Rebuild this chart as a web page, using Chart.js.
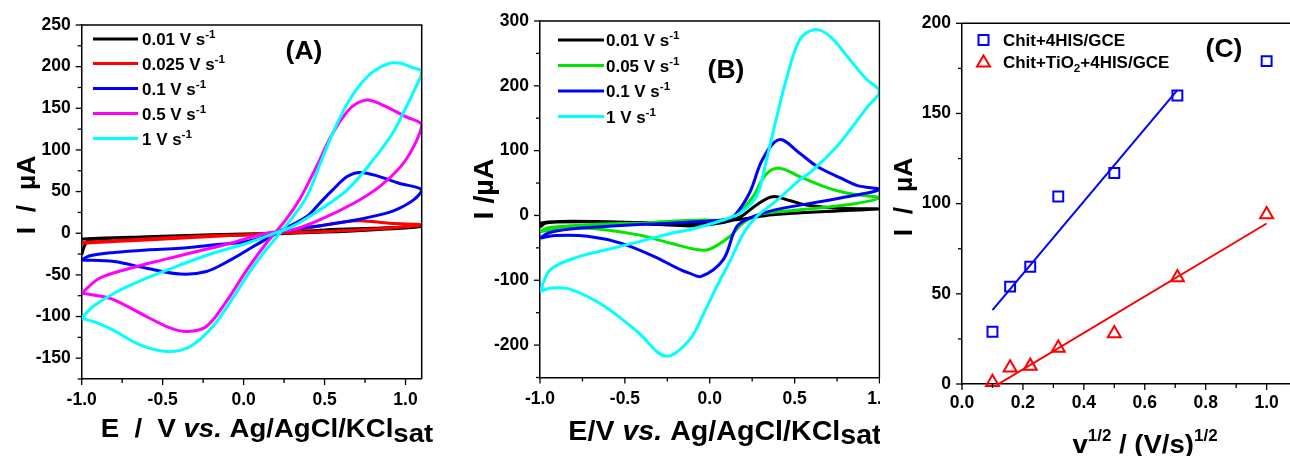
<!DOCTYPE html>
<html>
<head>
<meta charset="utf-8">
<script src="https://cdn.jsdelivr.net/npm/chart.js@4.4.0/dist/chart.umd.min.js"></script>
<style>
  html, body { margin: 0; padding: 0; background: #fff; overflow: hidden; width: 1290px; height: 456px; }
  canvas { position: absolute; top: 0; }
  #cvA { left: 0; }
  #cvB { left: 440px; }
  #cvC { left: 880px; background: #fff; }
  #edge { position: absolute; left: 880px; top: 20px; width: 1px; height: 358px; background: #e4e4e4; }
</style>
</head>
<body>
<canvas id="cvA" width="440" height="456"></canvas>
<canvas id="cvB" width="460" height="456"></canvas>
<canvas id="cvC" width="411" height="456"></canvas>
<div id="edge"></div>
<script>
// ---------- (A) Chit+4HIS/GCE voltammograms, [E / V, I / uA] ----------
// each list: sweep with the redox peaks, then the return sweep
const ratesA = ['0.01', '0.025', '0.1', '0.5', '1'];
const coloursA = ['#000000', '#ff0000', '#0000ff', '#ff00ff', '#00ffff'];

const cvA_001 = [[-1.0,-26],[-0.98,-14],[-0.95,-8],[-0.8,-6],[-0.4,-3],[0.0,-1],[0.2,0],[0.5,4],[0.8,6],[1.1,8],
  [0.7,3],[0.3,0],[0.0,-2],[-0.5,-4],[-0.9,-6],[-1.0,-7]];
const cvA_0025 = [[-1.0,-11],[-0.6,-7],[-0.2,-3],[0.2,0],[0.45,8],[0.6,13],[0.72,15],[0.9,12],[1.1,10],
  [0.8,5],[0.5,2],[0.2,0],[-0.2,-4],[-0.6,-8],[-1.0,-12]];
const cvA_01 = [[-1.0,-32],[-0.8,-34],[-0.6,-42],[-0.39,-49],[-0.23,-46],[-0.08,-32],[0.06,-16],[0.22,2],[0.39,20],
  [0.47,36],[0.55,52],[0.64,68],[0.72,73],[0.84,68],[0.96,60],[1.1,52],
  [1.05,40],[0.94,28],[0.84,22],[0.64,14],[0.43,8],[0.22,1],[0.02,-10],[-0.19,-14],[-0.39,-18],[-0.6,-20],
  [-0.8,-23],[-0.95,-27],[-1.0,-32]];
const cvA_05 = [[-1.0,-72],[-0.9,-75],[-0.8,-80],[-0.6,-100],[-0.45,-114],[-0.35,-118],[-0.23,-112],[-0.1,-80],
  [0.02,-44],[0.14,-12],[0.26,16],[0.35,42],[0.45,80],[0.55,120],[0.64,146],[0.7,156],[0.77,160],[0.88,152],
  [1.0,140],[1.1,130],
  [1.05,104],[0.97,80],[0.84,56],[0.68,36],[0.47,16],[0.3,4],[0.14,0],[-0.08,-12],[-0.29,-22],[-0.5,-32],
  [-0.7,-42],[-0.89,-54],[-1.0,-72]];
const cvA_1 = [[-1.0,-102],[-0.9,-108],[-0.8,-117],[-0.64,-134],[-0.47,-142],[-0.33,-136],[-0.19,-112],[-0.06,-76],
  [0.06,-40],[0.18,-10],[0.29,16],[0.39,44],[0.47,82],[0.55,120],[0.63,152],[0.71,176],[0.8,194],[0.9,204],
  [0.97,204],[1.04,199],[1.1,194],
  [1.05,170],[1.0,150],[0.92,120],[0.8,88],[0.64,52],[0.47,28],[0.3,8],[0.22,2],[0.02,-12],[-0.19,-24],
  [-0.39,-38],[-0.6,-54],[-0.8,-72],[-0.93,-88],[-1.0,-102]];
const curvesA = [cvA_001, cvA_0025, cvA_01, cvA_05, cvA_1];

// ---------- (B) Chit+TiO2+4HIS/GCE voltammograms ----------
// anodic sweep from -1.0 V, then cathodic sweep back
const ratesB = ['0.01', '0.05', '0.1', '1'];
const coloursB = ['#000000', '#00e600', '#0000ff', '#00ffff'];

const cvB_001 = [[-1.0,-18],[-0.97,-12],[-0.9,-10],[-0.6,-10],[-0.3,-14],[-0.1,-16],[0.08,-11],[0.18,-2],[0.28,17],
  [0.37,29],[0.47,23],[0.57,16],[0.77,11],[1.0,10],
  [0.75,7],[0.37,1],[0.18,-6],[-0.1,-13],[-0.4,-11],[-0.8,-9],[-0.95,-10],[-1.0,-12]];
const cvB_005 = [[-1.0,-25],[-0.95,-19],[-0.82,-16],[-0.62,-13],[-0.42,-12],[-0.23,-9],[-0.03,-7],[0.08,-7],[0.16,1],
  [0.255,29],[0.33,63],[0.41,73],[0.53,60],[0.67,45],[0.77,37],[0.87,32],[1.0,27],
  [0.85,18],[0.7,13],[0.5,8],[0.3,2],[0.2,-11],[0.12,-32],[0.0,-52],[-0.07,-53],[-0.23,-43],[-0.42,-30],
  [-0.62,-22],[-0.82,-19],[-1.0,-25]];
const cvB_01 = [[-1.0,-35],[-0.95,-27],[-0.82,-21],[-0.62,-17],[-0.42,-14],[-0.23,-12],[-0.03,-9],[0.08,-7],[0.14,-2],
  [0.235,35],[0.31,86],[0.41,117],[0.53,96],[0.63,76],[0.77,58],[0.87,46],[1.0,40],
  [0.77,27],[0.39,9],[0.255,-2],[0.16,-17],[0.08,-68],[-0.05,-94],[-0.12,-89],[-0.17,-84],[-0.33,-63],
  [-0.52,-43],[-0.72,-32],[-0.91,-31],[-1.0,-35]];
const cvB_1 = [[-1.0,-117],[-0.94,-84],[-0.8,-66],[-0.61,-53],[-0.41,-40],[-0.22,-27],[-0.12,-22],[0.08,-7],[0.18,4],
  [0.275,29],[0.33,81],[0.39,147],[0.45,209],[0.53,271],[0.62,287],[0.71,276],[0.82,242],[0.92,211],[1.0,191],
  [0.93,168],[0.83,133],[0.74,104],[0.6,68],[0.53,55],[0.39,22],[0.275,-2],[0.2,-27],[0.12,-70],[0.05,-105],
  [-0.03,-148],[-0.12,-192],[-0.26,-217],[-0.42,-181],[-0.62,-140],[-0.82,-114],[-0.93,-112],[-1.0,-117]];
const curvesB = [cvB_001, cvB_005, cvB_01, cvB_1];

// ---------- (C) peak current vs square root of scan rate ----------
const sqrtRate = [0.1, 0.158, 0.224, 0.316, 0.5, 0.707, 1.0];
const ipChit = [29, 54, 65, 104, 117, 160, 179];
const ipChitTiO2 = [1, 9, 10, 20, 28, 59, 94];
const fitChit = [[0.1, 41], [0.707, 163]];
const fitChitTiO2 = [[0.1, -2], [1.0, 89]];
const seriesC = ['Chit+4HIS/GCE', 'Chit+TiO2+4HIS/GCE'];

// ---------- helpers ----------
const FONT = '"Liberation Sans", Arial, Helvetica, sans-serif';
const STRETCH = 1.06;
const xy = pairs => pairs.map(p => ({ x: p[0], y: p[1] }));

function richText(ctx, parts, x, y, size, o) {
  o = o || {};
  const fontFor = k => {
    const s = (k === 'sup' || k === 'sub') ? (o.small || Math.round(size * 0.64)) : size;
    return (k === 'i' ? 'italic ' : '') + 'bold ' + s + 'px ' + FONT;
  };
  const shift = k => k === 'sup' ? -(o.up || size * 0.4) : k === 'sub' ? (o.down || size * 0.25) : k === 'low' ? (o.low || 5) : 0;
  let w = 0;
  parts.forEach(p => { ctx.font = fontFor(p[1]); w += ctx.measureText(p[0]).width; });
  ctx.save();
  ctx.translate(x, y);
  if (o.rotate) ctx.rotate(o.rotate);
  ctx.scale(STRETCH, 1);
  ctx.fillStyle = '#000';
  ctx.textAlign = 'left';
  ctx.textBaseline = 'alphabetic';
  let cx = o.align === 'left' ? 0 : -w / 2;
  parts.forEach(p => {
    ctx.font = fontFor(p[1]);
    ctx.fillText(p[0], cx, shift(p[1]));
    cx += ctx.measureText(p[0]).width;
  });
  ctx.restore();
}

// frame, tick marks (long when labelled), legend and titles
function makeDecor(cfg) {
  return {
    id: 'decor',
    afterDraw(chart) {
      const ctx = chart.ctx, a = chart.chartArea;
      ctx.save();
      ctx.strokeStyle = '#000';
      ctx.lineWidth = 1.5;
      ctx.beginPath();
      ctx.moveTo(a.left, a.top);
      ctx.lineTo(a.right, a.top);
      ctx.lineTo(a.right, a.bottom);
      ctx.stroke();

      ctx.lineWidth = 1.3;
      ['x', 'y'].forEach(id => {
        const s = chart.scales[id];
        s.ticks.forEach(t => {
          const len = t.label !== '' ? 6 : 4;
          const p = s.getPixelForValue(t.value);
          ctx.beginPath();
          if (id === 'x') { ctx.moveTo(p, a.bottom); ctx.lineTo(p, a.bottom + len); }
          else { ctx.moveTo(a.left, p); ctx.lineTo(a.left - len, p); }
          ctx.stroke();
        });
      });

      const lg = cfg.legend;
      lg.items.forEach((it, i) => {
        const y = lg.rows[i];
        ctx.strokeStyle = it.colour;
        if (lg.kind === 'line') {
          ctx.lineWidth = 3;
          ctx.beginPath(); ctx.moveTo(lg.x0, y); ctx.lineTo(lg.x1, y); ctx.stroke();
        } else if (it.marker === 'rect') {
          ctx.lineWidth = 2;
          ctx.strokeRect(lg.x0 - 5, y - 5, 10, 10);
        } else {
          ctx.lineWidth = 2;
          ctx.beginPath();
          ctx.moveTo(lg.x0, y - 6.5); ctx.lineTo(lg.x0 + 6.5, y + 4.5); ctx.lineTo(lg.x0 - 6.5, y + 4.5);
          ctx.closePath(); ctx.stroke();
        }
        richText(ctx, it.parts, lg.tx, y + 6, lg.size, { align: 'left', small: 11, up: 7, down: 4 });
      });

      richText(ctx, [[cfg.letter.text, '']], cfg.letter.x, cfg.letter.y, 25);
      const xt = cfg.xTitle, yt = cfg.yTitle;
      richText(ctx, xt.parts, xt.x, xt.y, xt.size, { low: xt.low, small: xt.small, up: xt.up });
      richText(ctx, yt.parts, yt.x, yt.y, yt.size, { rotate: -Math.PI / 2 });
      ctx.restore();
    }
  };
}

// fixed axis thickness so the plot area sits where the layout padding puts it
function linAxis(min, max, step, major, dec, size, pad) {
  return {
    type: 'linear', min: min, max: max,
    afterFit: s => {
      if (s.isHorizontal()) { s.height = size; s.paddingLeft = 0; s.paddingRight = 0; }
      else { s.width = size; s.paddingTop = 0; s.paddingBottom = 0; }
    },
    grid: { display: false, drawTicks: false },
    border: { display: true, color: '#000', width: 1.5 },
    ticks: {
      stepSize: step, includeBounds: false, autoSkip: false, maxRotation: 0, padding: pad,
      color: '#000', font: { family: FONT, size: 17.5, weight: 'bold' },
      callback: v => Math.abs(v / major - Math.round(v / major)) < 1e-6 ? v.toFixed(dec) : ''
    }
  };
}

function baseOptions(xAxis, yAxis, pad) {
  return {
    responsive: false, animation: false, devicePixelRatio: 1, events: [],
    layout: { padding: pad, autoPadding: false },
    plugins: { legend: { display: false }, tooltip: { enabled: false } },
    scales: { x: xAxis, y: yAxis }
  };
}

function cvSets(rates, curves, colours) {
  return curves.map((c, i) => ({
    label: rates[i] + ' V s-1', data: xy(c), borderColor: colours[i], backgroundColor: colours[i],
    borderWidth: 3, showLine: true, pointRadius: 0, tension: 0.35, order: curves.length - i
  }));
}

const rateParts = r => [[r + ' V s', ''], ['-1', 'sup']];

// ---------- (A) ----------
new Chart(document.getElementById('cvA'), {
  type: 'scatter',
  data: { datasets: cvSets(ratesA, curvesA, coloursA) },
  options: baseOptions(linAxis(-1.0, 1.1, 0.25, 0.5, 1, 77, 11),
                       linAxis(-175, 250, 25, 50, 0, 81.7, 11),
                       { left: 0, right: 18.3, top: 25, bottom: 0 }),
  plugins: [makeDecor({
    legend: { kind: 'line', x0: 93, x1: 138, tx: 142, size: 16, rows: [39, 63.5, 88.5, 113.5, 138.5],
              items: ratesA.map((r, i) => ({ colour: coloursA[i], parts: rateParts(r) })) },
    letter: { text: '(A)', x: 304, y: 59 },
    xTitle: { parts: [['E  /  V ', ''], ['vs.', 'i'], [' Ag/AgCl/KCl', ''], ['sat', 'low']], x: 267, y: 437, size: 26, low: 5 },
    yTitle: { parts: [['I  /  \u00b5A', '']], x: 35, y: 195, size: 25 }
  })]
});

// ---------- (B) ----------
new Chart(document.getElementById('cvB'), {
  type: 'scatter',
  data: { datasets: cvSets(ratesB, curvesB, coloursB) },
  options: baseOptions(linAxis(-1.0, 1.0, 0.25, 0.5, 1, 78.5, 11),
                       linAxis(-250, 300, 50, 100, 0, 100, 11),
                       { left: 0, right: 20.5, top: 21, bottom: 0 }),
  plugins: [makeDecor({
    legend: { kind: 'line', x0: 118, x1: 164, tx: 166, size: 16, rows: [40, 65.5, 91, 116.5],
              items: ratesB.map((r, i) => ({ colour: coloursB[i], parts: rateParts(r) })) },
    letter: { text: '(B)', x: 286, y: 78 },
    xTitle: { parts: [['E/V ', ''], ['vs.', 'i'], [' Ag/AgCl/KCl', ''], ['sat', 'low']], x: 285, y: 440, size: 27, low: 4 },
    yTitle: { parts: [['I /\u00b5A', '']], x: 53, y: 189, size: 27 }
  })]
});

// ---------- (C) ----------
new Chart(document.getElementById('cvC'), {
  type: 'scatter',
  data: {
    datasets: [
      { label: seriesC[0], data: xy(sqrtRate.map((v, i) => [v, ipChit[i]])), pointStyle: 'rect', pointRadius: 7,
        pointBorderColor: '#0000ff', pointBackgroundColor: 'rgba(0,0,0,0)', pointBorderWidth: 2, clip: false },
      { label: seriesC[1], data: xy(sqrtRate.map((v, i) => [v, ipChitTiO2[i]])), pointStyle: 'triangle', pointRadius: 7.5,
        pointBorderColor: '#ff0000', pointBackgroundColor: 'rgba(0,0,0,0)', pointBorderWidth: 2, clip: false },
      { label: 'fit 1', data: xy(fitChit), showLine: true, pointRadius: 0, borderColor: '#0000ff', borderWidth: 2 },
      { label: 'fit 2', data: xy(fitChitTiO2), showLine: true, pointRadius: 0, borderColor: '#ff0000', borderWidth: 2 }
    ]
  },
  options: baseOptions(linAxis(0, 1.08, 0.1, 0.2, 1, 72, 9),
                       linAxis(0, 200, 25, 50, 0, 82, 11),
                       { left: 0, right: 0, top: 23.3, bottom: 0 }),
  plugins: [makeDecor({
    legend: { kind: 'marker', x0: 103.5, tx: 123, size: 16, rows: [40, 62],
              items: [
                { colour: '#0000ff', marker: 'rect', parts: [[seriesC[0], '']] },
                { colour: '#ff0000', marker: 'triangle', parts: [['Chit+TiO', ''], ['2', 'sub'], ['+4HIS/GCE', '']] }
              ] },
    letter: { text: '(C)', x: 344, y: 57 },
    xTitle: { parts: [['v', ''], ['1/2', 'sup'], [' / (V/s)', ''], ['1/2', 'sup']], x: 265, y: 453, size: 26, small: 16, up: 12 },
    yTitle: { parts: [['I  /  \u00b5A', '']], x: 32, y: 197, size: 25 }
  })]
});
</script>
</body>
</html>
